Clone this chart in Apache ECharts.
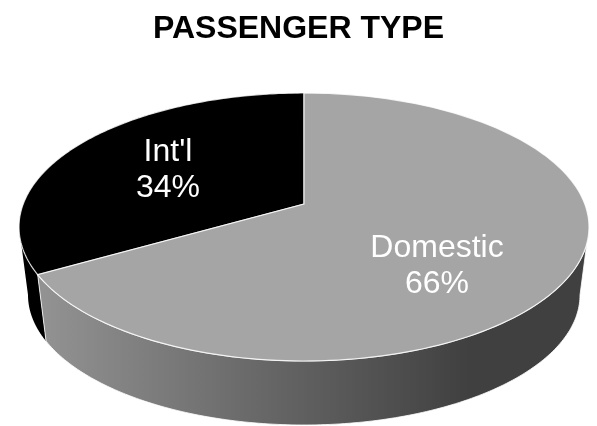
<!DOCTYPE html>
<html>
<head>
<meta charset="utf-8">
<style>html,body{margin:0;padding:0;background:#fff}#c{width:597px;height:426px}</style>
<script src="https://cdn.jsdelivr.net/npm/echarts@6/dist/echarts.min.js"></script>
</head>
<body>
<div id="c"></div>
<script>
var categories = ["Int'l", "Domestic"];
var shares = [34, 66];

// Geometry of the tilted pie
var TOP = {cx: 304, cy: 227, rx: 285, ry: 134};
var BASE = {cx: 304, cy: 295, rx: 276, ry: 130};
var APEX_K = (204 - TOP.cy) / TOP.ry;
var SWEEP_SKEW = -0.045;   // small sweep correction from the 3D view of the original
var FACE = ['#000000', '#a5a5a5'];
var LABEL_AT = [[168, 170], [437, 266]];
var EDGE = 'rgba(255,255,255,0.8)';

var total = shares.reduce(function (a, b) { return a + b; }, 0);

// Perspective map: true pie angle (clockwise from top) -> unit ellipse param
function project(theta) {
  var x = Math.sin(theta), y = -Math.cos(theta);
  var d = 1 + APEX_K * y;
  return [x * Math.sqrt(1 - APEX_K * APEX_K) / d, (y + APEX_K) / d];
}
function phiOf(theta) { var p = project(theta); return Math.atan2(p[1], p[0]); }
function on(e, phi) { return [e.cx + e.rx * Math.cos(phi), e.cy + e.ry * Math.sin(phi)]; }

// Int'l runs counter-clockwise from the top, Domestic takes the rest
function sweep() { return 2 * Math.PI * shares[0] / total + SWEEP_SKEW; }
function sliceRange(i) {
  var a = sweep();
  return i === 0 ? [-a, 0] : [0, 2 * Math.PI - a];
}

function renderItem(params, api) {
  var i = params.dataIndex;
  var r = sliceRange(i);
  var n = 160, face = [[304, 204]], k, th;
  for (k = 0; k <= n; k++) {
    th = r[0] + (r[1] - r[0]) * k / n;
    var p = project(th);
    face.push([TOP.cx + TOP.rx * p[0], TOP.cy + TOP.ry * p[1]]);
  }
  // wall: visible lower arc only
  var j = phiOf(2 * Math.PI - sweep()); // junction, lower left
  if (j < 0) j += 2 * Math.PI;
  var from = i === 0 ? Math.PI : j, to = i === 0 ? j : 0;
  var upper = [], lower = [];
  for (k = 0; k <= n; k++) {
    var ph = from + (to - from) * k / n;
    upper.push(on(TOP, ph));
    lower.push(on(BASE, ph));
  }
  var wall = upper.concat(lower.reverse());
  var wallFill = i === 0 ? '#000000' : new echarts.graphic.LinearGradient(44, 0, 470, 0, [
    {offset: 0, color: '#929292'},
    {offset: 0.6, color: '#606060'},
    {offset: 1, color: '#404040'}
  ], true);
  return {
    type: 'group',
    children: [
      {type: 'polygon', shape: {points: wall},
       style: {fill: wallFill, stroke: i === 0 ? null : EDGE, lineWidth: i === 0 ? 0 : 1}},
      {type: 'polygon', shape: {points: face},
       style: {fill: FACE[i], stroke: EDGE, lineWidth: 1.2}},
      {type: 'text', z2: 10, style: {
        text: categories[i] + '\n' + api.value(0) + '%',
        x: LABEL_AT[i][0], y: LABEL_AT[i][1],
        fill: '#ffffff', font: '32px "Liberation Sans", Arial, sans-serif',
        lineHeight: 36, align: 'center', verticalAlign: 'middle'
      }}
    ]
  };
}

var chart = echarts.init(document.getElementById('c'), null, {renderer: 'canvas'});
chart.setOption({
  animation: false,
  backgroundColor: '#ffffff',
  title: {
    text: 'PASSENGER TYPE', left: 'center', top: 8,
    textStyle: {fontFamily: '"Liberation Sans", Arial, sans-serif', fontWeight: 'bold', fontSize: 32, color: '#000000'}
  },
  series: [{
    type: 'custom', coordinateSystem: 'none', silent: true, clip: false,
    renderItem: renderItem,
    data: shares.map(function (v, i) { return {name: categories[i], value: [v]}; })
  }]
});
</script>
</body>
</html>
